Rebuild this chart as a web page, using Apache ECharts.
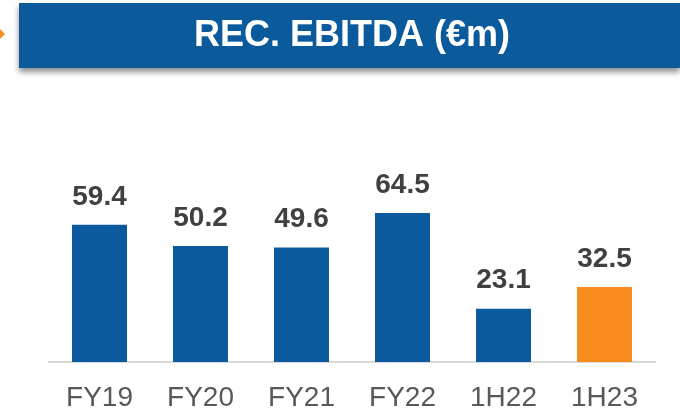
<!DOCTYPE html>
<html>
<head>
<meta charset="utf-8">
<script src="https://cdn.jsdelivr.net/npm/echarts@6/dist/echarts.min.js"></script>
<style>html,body{margin:0;padding:0;background:#fff}#c{width:680px;height:419px}</style>
</head>
<body>
<div id="c"></div>
<script>
const categories = ['FY19', 'FY20', 'FY21', 'FY22', '1H22', '1H23'];
const values = [59.4, 50.2, 49.6, 64.5, 23.1, 32.5];
const barColors = ['#0B5A9E', '#0B5A9E', '#0B5A9E', '#0B5A9E', '#0B5A9E', '#F98C1F'];
const titleText = 'REC. EBITDA (€m)';

const chart = echarts.init(document.getElementById('c'), null, {renderer: 'canvas'});
chart.setOption({
  animation: false,
  grid: {left: 49, right: 25, top: 131, bottom: 57, containLabel: false},
  xAxis: {
    type: 'category',
    data: categories,
    axisLine: {lineStyle: {color: '#D9D9D9', width: 2}},
    axisTick: {show: false},
    axisLabel: {color: '#595959', fontSize: 28, fontFamily: 'Liberation Sans, Arial, sans-serif', margin: 22}
  },
  yAxis: {
    type: 'value', min: 0, max: 100,
    show: false,
    splitLine: {show: false}
  },
  series: [{
    type: 'bar',
    barWidth: 55,
    data: values.map((v, i) => ({value: v, itemStyle: {color: barColors[i]}})),
    label: {
      show: true, position: 'top', distance: 14,
      color: '#404040', fontSize: 28, fontWeight: 'bold',
      fontFamily: 'Liberation Sans, Arial, sans-serif',
      formatter: p => p.value.toFixed(1)
    }
  }],
  graphic: [
    {
      type: 'rect', left: 19, top: 3,
      shape: {width: 661, height: 65},
      style: {fill: '#0B5A9C', shadowBlur: 6, shadowOffsetY: 4, shadowOffsetX: 0, shadowColor: 'rgba(0,0,0,0.45)'}
    },
    {
      type: 'text', x: 352, y: 36,
      style: {text: titleText, fill: '#ffffff', fontSize: 36, fontWeight: 'bold', fontFamily: 'Liberation Sans, Arial, sans-serif', align: 'center', verticalAlign: 'middle'}
    },
    {
      type: 'polygon',
      shape: {points: [[-2, 27], [5, 34], [-2, 41]]},
      style: {fill: '#F98C1F'}
    }
  ]
});
</script>
</body>
</html>
